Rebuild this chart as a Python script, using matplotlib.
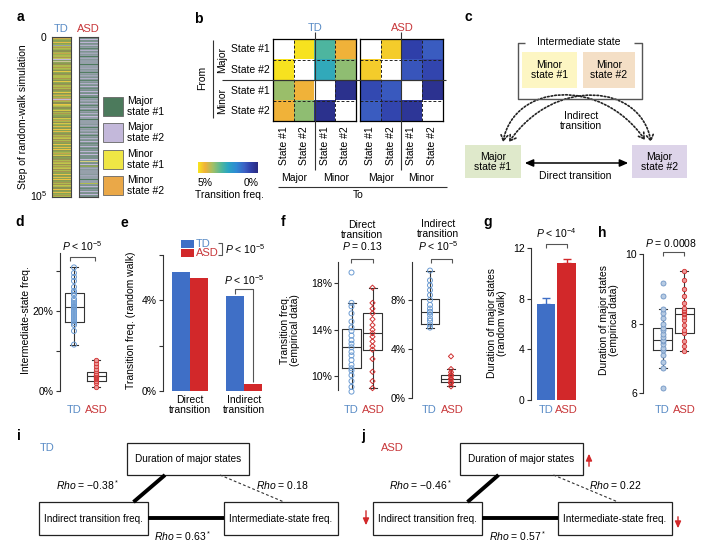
import numpy as np
import matplotlib
matplotlib.use("Agg")
import matplotlib.pyplot as plt
from matplotlib.colors import LinearSegmentedColormap, to_rgb
from matplotlib.patches import Rectangle, FancyArrowPatch
from matplotlib.path import Path

plt.rcParams["font.family"] = ["Liberation Sans", "DejaVu Sans"]
plt.rcParams["mathtext.fontset"] = "custom"
plt.rcParams["mathtext.rm"] = "Liberation Sans"
plt.rcParams["mathtext.it"] = "Liberation Sans:italic"
plt.rcParams["mathtext.bf"] = "Liberation Sans:bold"
plt.rcParams["font.size"] = 7.5

# ---- data ----
STATE_NAMES = ["Major\nstate #1", "Major\nstate #2", "Minor\nstate #1", "Minor\nstate #2"]
STATE_COLORS = ["#4c7a5c", "#c3b8da", "#efe645", "#eaa848"]

# (a) state sequence along the random walk, 0..3 = index into STATE_NAMES
TD_WALK = ("02302020320201023020203020320202"
           "30211021020302023020203202030202"
           "20302032020302023020302023020320"
           "20311302030232020302023020302020"
           "03202302032020230203202302030203"
           "20230203020320203202302020320230"
           "02030203202302032023020302023020"
           "32023020302032020302302032020302")
ASD_WALK = ("01011010110101101001011010110100"
            "10110101101001011011010100101101"
            "01101001011010110100101101011010"
            "00101101011010010110100101101011"
            "10100101101011010010110101101001"
            "01101011010010110100101101011010"
            "01011012010110201011010110101101"
            "10100101102010110100101101011010")

# (b) transition frequency (%), rows = from, cols = to
HM_STATES = ["State #1", "State #2", "State #1", "State #2"]
TD_FREQ = [[np.nan, 4.95, 3.0, 4.4],
           [4.95, np.nan, 2.6, 3.6],
           [3.7, 4.4, np.nan, 0.2],
           [4.4, 3.6, 0.2, np.nan]]
ASD_FREQ = [[np.nan, 4.7, 0.6, 1.05],
            [4.7, np.nan, 0.95, 0.7],
            [0.75, 1.0, np.nan, 0.25],
            [1.05, 0.7, 0.35, np.nan]]

BOX_KEYS = ["med", "q1", "q3", "whislo", "whishi"]

# (d) intermediate-state frequency (%)
D_TD = [11.6, 15.0, 16.5, 17.0, 17.5, 18.0, 18.5, 19.0, 19.5, 20.0, 20.5, 21.0, 21.0,
        21.5, 22.0, 22.5, 23.0, 24.0, 24.5, 25.0, 26.0, 27.5, 28.5, 29.5, 30.9]
D_ASD = [0.9, 2.0, 2.6, 3.0, 3.2, 3.4, 3.6, 3.8, 3.9, 4.1, 4.3, 4.6, 5.0, 5.4, 6.2, 7.0, 7.75]
D_TD_BOX = [20.9, 17.3, 24.6, 11.5, 30.9]
D_ASD_BOX = [3.75, 2.6, 4.8, 0.9, 7.75]

# (e) transition freq, random walk (%)
E_GROUPS = ["Direct\ntransition", "Indirect\ntransition"]
E_TD = [5.27, 4.19]
E_ASD = [5.0, 0.31]

# (f) transition freq, empirical (%)
F_DIR_TD = [8.7, 9.1, 9.6, 10.1, 10.5, 10.7, 11.0, 11.4, 11.8, 12.1, 12.5, 12.8, 13.1,
            13.5, 13.9, 14.2, 14.7, 15.4, 16.0, 16.3, 18.9]
F_DIR_ASD = [9.0, 9.6, 10.4, 11.5, 12.3, 12.6, 13.0, 13.4, 13.7, 14.0, 14.4, 14.9, 15.4,
             15.8, 16.3, 17.6]
F_IND_TD = [5.75, 6.0, 6.3, 6.5, 6.8, 7.0, 7.05, 7.3, 7.6, 8.0, 8.4, 8.8, 9.2, 9.6, 10.4]
F_IND_ASD = [0.95, 1.2, 1.3, 1.5, 1.6, 1.8, 1.9, 2.1, 2.36, 3.4]
F_DIR_TD_BOX = [12.5, 10.7, 14.05, 8.7, 16.3]
F_DIR_ASD_BOX = [13.7, 12.3, 15.4, 9.0, 17.6]
F_IND_TD_BOX = [7.05, 6.0, 8.05, 5.75, 10.4]
F_IND_ASD_BOX = [1.55, 1.27, 1.9, 0.95, 2.36]

# (g) duration of major states, random walk (mean, sem)
G_MEAN = [7.6, 10.8]
G_ERR = [0.44, 0.35]

# (h) duration of major states, empirical
H_TD = [6.13, 6.73, 6.9, 7.1, 7.23, 7.3, 7.4, 7.5, 7.52, 7.6, 7.7, 7.8, 7.86, 8.0,
        8.15, 8.3, 8.41, 8.79, 9.16]
H_ASD = [7.21, 7.35, 7.5, 7.74, 7.8, 7.95, 8.1, 8.2, 8.27, 8.3, 8.35, 8.4, 8.46, 8.6,
         8.8, 9.0, 9.25, 9.5]
H_TD_BOX = [7.52, 7.23, 7.86, 6.73, 8.41]
H_ASD_BOX = [8.27, 7.74, 8.46, 7.21, 9.5]

# (i, j) correlations
NODES = ["Duration of major states", "Indirect transition freq.", "Intermediate-state freq."]
RHO_TD = ["\u22120.38", "0.18", "0.63"]
RHO_ASD = ["\u22120.46", "0.22", "0.57"]
RHO_SIG = [True, False, True]

TD_TXT = "#5a8cc6"
ASD_TXT = "#c8373a"
TD_BAR = "#3f6fc6"
ASD_BAR = "#d2282a"
LINE = "#333333"

W, H = 720, 547
fig = plt.figure(figsize=(7.2, 5.47), dpi=100)


def add_ax(x, y, w, h):
    # x, y in reference pixels, y measured from the top
    return fig.add_axes([x / W, 1 - (y + h) / H, w / W, h / H])


def panel_axes(x0, y_top, x1, y_bot, ylim, yticks, yticklabels):
    ax = add_ax(x0, y_top, x1 - x0, y_bot - y_top)
    ax.set_xlim(x0, x1)
    ax.set_ylim(*ylim)
    ax.set_yticks(yticks)
    ax.set_yticklabels(yticklabels)
    ax.set_xticks([])
    for s in ("top", "right", "bottom"):
        ax.spines[s].set_visible(False)
    ax.spines["left"].set_linewidth(0.8)
    ax.spines["left"].set_color(LINE)
    ax.tick_params(axis="y", length=3, width=0.8, pad=1.5, labelsize=7.5, color=LINE)
    ax.patch.set_visible(False)
    return ax


def boxes(ax, box_vals, positions, points, styles):
    stats = [dict(zip(BOX_KEYS, b)) for b in box_vals]
    lp = dict(color=LINE, lw=0.8)
    ax.bxp(stats, positions=positions, widths=19, showfliers=False, manage_ticks=False,
           boxprops=lp, medianprops=lp, whiskerprops=lp, capprops=lp, capwidths=8)
    for pos, vals, st in zip(positions, points, styles):
        ax.scatter(np.full(len(vals), pos), vals, zorder=3, clip_on=False, **st)


TD_PT = dict(marker="o", s=13, facecolors="none", edgecolors="#6b9bd2", linewidths=0.7)
ASD_PT = dict(marker="o", s=10, facecolors="#ec9a9a", edgecolors="#d03030", linewidths=0.6)
ASD_DIA = dict(marker="D", s=7, facecolors="none", edgecolors="#d03030", linewidths=0.7)
TD_FILL = dict(marker="o", s=13, facecolors="#b7cbe3", edgecolors="#6f95c4", linewidths=0.6)

# ---- overlay for text and diagrams ----
ov = fig.add_axes([0, 0, 1, 1])
ov.set_xlim(0, W)
ov.set_ylim(H, 0)
ov.axis("off")
ov.set_zorder(10)
ov.patch.set_visible(False)


def txt(x, y, s, ha="center", va="center", size=7.5, **kw):
    ov.text(x, y, s, ha=ha, va=va, fontsize=size, **kw)


def seg(xs, ys, **kw):
    kw.setdefault("color", LINE)
    kw.setdefault("lw", 0.8)
    ov.plot(xs, ys, solid_capstyle="butt", **kw)


def bracket(x1, x2, y, drop=4):
    seg([x1, x1, x2, x2], [y + drop, y, y, y + drop], color="#555555")


for lab, x, y in [("a", 20, 17), ("b", 198, 19), ("c", 468, 17), ("d", 20, 222),
                  ("e", 124, 223), ("f", 283, 222), ("g", 488, 222), ("h", 602, 233),
                  ("i", 19, 436), ("j", 363, 436)]:
    txt(x, y, lab, size=10, weight="bold")

# ---- a ----
for x0, walk, name, col in [(52, TD_WALK, "TD", TD_TXT), (79, ASD_WALK, "ASD", ASD_TXT)]:
    ax = add_ax(x0, 37, 19, 160)
    rgb = np.array([to_rgb(STATE_COLORS[int(c)]) for c in walk])[:, None, :]
    ax.imshow(rgb, aspect="auto", interpolation="antialiased", interpolation_stage="rgba")
    ax.set_xticks([])
    ax.set_yticks([])
    for sp in ax.spines.values():
        sp.set_linewidth(0.8)
        sp.set_color("#444444")
    txt(x0 + 9.5, 29, name, color=col, size=8)
txt(46, 38, "0", ha="right")
txt(47, 196, "10$^5$", ha="right")
txt(23, 117, "Step of random-walk simulation", rotation=90, size=7.5)
for k, (name, col) in enumerate(zip(STATE_NAMES, STATE_COLORS)):
    yk = [97, 123, 150, 176][k]
    ov.add_patch(Rectangle((103, yk), 20, 19, fc=col, ec="#666666", lw=0.6))
    txt(127, yk + 9.5, name, ha="left", size=7.5, linespacing=1.1)

# ---- b ----
pcols = ["#2a2a80", "#3040aa", "#3c60c4", "#2f8ad4", "#2aa6c2", "#55b898", "#a5c064", "#f0b13a", "#f8e61e"]
pstops = [0.0, 0.12, 0.22, 0.36, 0.5, 0.62, 0.76, 0.88, 1.0]
hm_cmap = LinearSegmentedColormap.from_list("parula_like", list(zip(pstops, pcols)))
hm_cmap.set_bad("white")

for x0, freq, name, col in [(273, TD_FREQ, "TD", TD_TXT), (360, ASD_FREQ, "ASD", ASD_TXT)]:
    ax = add_ax(x0, 39, 83, 82)
    ax.imshow(np.array(freq), cmap=hm_cmap, vmin=0, vmax=5, aspect="auto")
    for v in (0.5, 2.5):
        ax.axhline(v, color="#222222", lw=0.7, ls=(0, (3, 2)))
        ax.axvline(v, color="#222222", lw=0.7, ls=(0, (3, 2)))
    ax.axhline(1.5, color="#222222", lw=0.8)
    ax.set_xticks([])
    ax.set_yticks([])
    for sp in ax.spines.values():
        sp.set_linewidth(0.9)
    txt(x0 + 42, 28, name, color=col, size=8)

for k, lab in enumerate(HM_STATES):
    txt(270, [49, 70, 91, 111][k], lab, ha="right")
for k, lab in enumerate(HM_STATES * 2):
    txt([284, 304, 325, 345, 370, 391, 411, 432][k], 126, lab, rotation=90, va="top")
txt(222, 60, "Major", rotation=90)
txt(222, 101, "Minor", rotation=90)
txt(202, 78, "From", rotation=90)
for lab, x in zip(["Major", "Minor", "Major", "Minor"], [294, 336, 381, 421]):
    txt(x, 178, lab)
txt(358, 195, "To")
seg([213, 213], [40, 118])
seg([222, 446], [80, 80])
seg([315, 315], [32, 170])
seg([401, 401], [32, 170])
seg([278, 447], [187, 187])

cb = add_ax(198, 162, 60, 11)
cb.imshow(np.linspace(5, 0, 256)[None, :], cmap=hm_cmap, vmin=0, vmax=5, aspect="auto")
cb.axis("off")
txt(198, 183, "5%", ha="left")
txt(259, 183, "0%", ha="right")
txt(229, 195, "Transition freq.")

# ---- c ----
ov.add_patch(Rectangle((522, 52), 55, 36, fc="#fdf6c3", ec="none"))
ov.add_patch(Rectangle((583, 52), 52, 36, fc="#f4dfc6", ec="none"))
ov.add_patch(Rectangle((465, 145), 56, 33, fc="#dfe9cb", ec="none"))
ov.add_patch(Rectangle((632, 145), 55, 33, fc="#ddd4e9", ec="none"))
seg([525, 518, 518, 642, 642, 634], [43, 43, 99, 99, 43, 43], color="#555555", lw=1)
txt(579, 42, "Intermediate state", size=7.5)
txt(549.5, 70, STATE_NAMES[2], linespacing=1.1)
txt(609, 70, STATE_NAMES[3], linespacing=1.1)
txt(493, 162, STATE_NAMES[0], linespacing=1.1)
txt(659.5, 162, STATE_NAMES[1], linespacing=1.1)
txt(581, 121, "Indirect\ntransition", linespacing=1.1)
txt(575, 176, "Direct transition")
ov.add_patch(FancyArrowPatch((522, 163), (631, 163), arrowstyle="<|-|>,head_length=5,head_width=2.2",
                             color="k", lw=1.1, mutation_scale=1))
curve = [Path.MOVETO, Path.CURVE4, Path.CURVE4, Path.CURVE4]
for verts in ([(503, 142), (514, 84), (600, 76), (645, 140)],
              [(509, 142), (555, 76), (641, 84), (651, 142)]):
    ov.add_patch(FancyArrowPatch(path=Path(verts, curve), arrowstyle="<->,head_length=4,head_width=2.5",
                                 color="#222222", lw=1.2, ls=(0, (1, 1.2)), mutation_scale=1))

# ---- d ----
ax = panel_axes(60, 253, 112, 391, (0, 34.5), [0, 10, 20, 30], ["0%", "", "20%", ""])
boxes(ax, [D_TD_BOX, D_ASD_BOX], [74, 96], [D_TD, D_ASD], [TD_PT, ASD_PT])
txt(26, 320, "Intermediate-state freq.", rotation=90)
txt(82, 246, "$P$ < 10$^{-5}$")
bracket(70, 95, 257)
txt(74, 410, "TD", color=TD_TXT, size=8)
txt(96, 410, "ASD", color=ASD_TXT, size=8)

# ---- e ----
ax = panel_axes(163, 255, 268, 391, (0, 6), [0, 2, 4, 6], ["0%", "", "4%", ""])
ax.bar([181, 235], E_TD, width=18, color=TD_BAR)
ax.bar([199, 253], E_ASD, width=18, color=ASD_BAR)
txt(131, 320, "Transition freq. (random walk)", rotation=90)
for lab, x in zip(E_GROUPS, [190, 244]):
    txt(x, 405, lab, linespacing=1.05)
ov.add_patch(Rectangle((181, 240), 13, 8, fc=TD_BAR, ec="none"))
ov.add_patch(Rectangle((181, 249), 13, 8, fc=ASD_BAR, ec="none"))
txt(196, 244, "TD", ha="left", color=TD_TXT, size=8)
txt(196, 253, "ASD", ha="left", color=ASD_TXT, size=8)
seg([218, 222, 222, 218], [243, 243, 255, 255], color="#555555")
txt(225, 249, "$P$ < 10$^{-5}$", ha="left")
txt(244, 280, "$P$ < 10$^{-5}$")
seg([235, 235, 253, 253], [294, 289, 289, 382], color="#555555")

# ---- f ----
ax = panel_axes(338, 262, 392, 390, (8.84, 19.8), [10, 14, 18], ["10%", "14%", "18%"])
boxes(ax, [F_DIR_TD_BOX, F_DIR_ASD_BOX], [351.5, 372.5], [F_DIR_TD, F_DIR_ASD], [TD_PT, ASD_DIA])
ax = panel_axes(412, 262, 465, 398, (0, 11.1), [0, 4, 8], ["0%", "4%", "8%"])
boxes(ax, [F_IND_TD_BOX, F_IND_ASD_BOX], [430, 451], [F_IND_TD, F_IND_ASD], [TD_PT, ASD_DIA])
txt(290, 330, "Transition freq.\n(empirical data)", rotation=90, linespacing=1.1)
txt(362, 236, "Direct\ntransition\n$P$ = 0.13", linespacing=1.05)
txt(438, 236, "Indirect\ntransition\n$P$ < 10$^{-5}$", linespacing=1.05)
bracket(351, 373, 259)
bracket(431, 452, 259)
for xs in ([351, 373], [429, 452]):
    txt(xs[0], 410, "TD", color=TD_TXT, size=8)
    txt(xs[1], 410, "ASD", color=ASD_TXT, size=8)

# ---- g ----
ax = panel_axes(531, 248, 582, 400, (0, 12), [0, 4, 8, 12], ["0", "4", "8", "12"])
for x, m, e, c in zip([546, 566.5], G_MEAN, G_ERR, [TD_BAR, ASD_BAR]):
    ax.bar([x], [m], width=18.5, color=c, yerr=[[0], [e]],
           error_kw=dict(ecolor=c, capsize=3, elinewidth=1, capthick=1))
txt(497, 323, "Duration of major states\n(random walk)", rotation=90, linespacing=1.1)
txt(556, 233, "$P$ < 10$^{-4}$")
bracket(546, 567, 244)
txt(546, 410, "TD", color=TD_TXT, size=8)
txt(566, 410, "ASD", color=ASD_TXT, size=8)

# ---- h ----
ax = panel_axes(643, 254, 702, 393, (6, 10), [6, 8, 10], ["6", "8", "10"])
boxes(ax, [H_TD_BOX, H_ASD_BOX], [662.5, 684], [H_TD, H_ASD], [TD_FILL, ASD_PT])
txt(609, 320, "Duration of major states\n(empirical data)", rotation=90, linespacing=1.1)
txt(671, 243, "$P$ = 0.0008")
bracket(663, 684, 252)
txt(662, 410, "TD", color=TD_TXT, size=8)
txt(684, 410, "ASD", color=ASD_TXT, size=8)


# ---- i / j ----
def network(dx, rho, node_boxes, group, gcol, gx):
    txt(gx, 448, group, color=gcol, size=8)
    (x0, w0), (x1, w1), (x2, w2) = node_boxes
    for (bx, bw), by, bh, name in zip(node_boxes, [443, 502, 502], [32, 33, 33], NODES):
        ov.add_patch(Rectangle((bx, by), bw, bh, fc="white", ec="#222222", lw=0.9))
        txt(bx + bw / 2, by + bh / 2, name, size=7.2)
    top_c = x0 + w0 / 2
    seg([top_c - 23, x1 + w1 / 2 + 40], [475, 502], color="k", lw=2.8)
    seg([x1 + w1, x2], [518, 518], color="k", lw=2.8)
    seg([top_c + 32, x2 + w2 / 2 + 3], [475, 502], color="#333333", lw=0.8, ls=(0, (2.5, 2)))
    labels = ["$Rho$ = %s%s" % (r, "$^*$" if s else "") for r, s in zip(rho, RHO_SIG)]
    txt(dx[0], 485, labels[0])
    txt(dx[1], 485, labels[1])
    txt(dx[2], 536, labels[2])


network([88, 282, 183], RHO_TD, [(127, 122), (39, 109), (224, 114)], "TD", TD_TXT, 47)
network([421, 615, 517], RHO_ASD, [(460, 123), (373, 109), (558, 114)], "ASD", ASD_TXT, 392)
for x, y0, y1 in [(589, 469, 451), (366, 508, 528), (678, 514, 531)]:
    ov.add_patch(FancyArrowPatch((x, y0), (x, y1), arrowstyle="-|>,head_length=4,head_width=1.8",
                                 color=ASD_BAR, lw=1.0, mutation_scale=1))

fig.savefig("out.png", dpi=100)
